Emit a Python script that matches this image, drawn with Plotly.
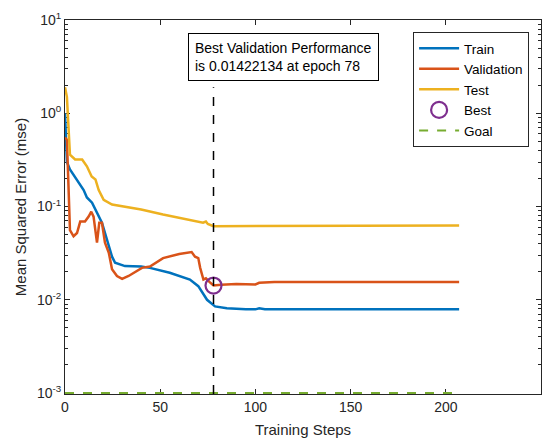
import plotly.graph_objects as go

# ---- data ----
train_x = [0, 1, 2.6, 6.3, 9.8, 11.5, 14.2, 19.4, 24.7, 26.3, 31.5, 40, 44.6, 55, 65.6, 70, 74.6, 78.8, 85, 95, 100, 102, 105, 130, 160, 190, 207]
train_y = [1.0, 0.30, 0.25, 0.19, 0.15, 0.125, 0.11, 0.067, 0.029, 0.025, 0.023, 0.0227, 0.022, 0.0195, 0.0165, 0.014, 0.010, 0.0085, 0.0081, 0.0079, 0.0079, 0.0081, 0.0079, 0.0079, 0.0079, 0.0079, 0.0079]

val_x = [0, 1, 1.9, 2.6, 4.5, 6.3, 8, 10.5, 12.4, 13.8, 15, 16.8, 18, 19.4, 21, 23, 24.7, 27.3, 30, 33.4, 40.4, 44.6, 51.5, 60, 66.5, 68.3, 70, 71, 72.7, 74, 76, 78, 82, 90, 100, 102, 110, 130, 160, 190, 207]
val_y = [0.55, 0.52, 0.15, 0.056, 0.048, 0.052, 0.069, 0.069, 0.078, 0.088, 0.078, 0.041, 0.067, 0.067, 0.041, 0.032, 0.0213, 0.018, 0.0168, 0.018, 0.022, 0.0227, 0.028, 0.031, 0.0325, 0.029, 0.028, 0.022, 0.0165, 0.017, 0.0155, 0.01422, 0.0145, 0.0148, 0.0146, 0.0152, 0.0155, 0.0155, 0.0155, 0.0155, 0.0155]

test_x = [0, 1, 2.6, 5.3, 9, 11.5, 14, 16, 17.7, 20.3, 24.7, 33.4, 40, 51.5, 65.6, 72.5, 74, 75, 78, 90, 100, 105, 130, 160, 190, 207]
test_y = [1.9, 1.5, 0.36, 0.32, 0.32, 0.27, 0.21, 0.195, 0.15, 0.118, 0.105, 0.097, 0.093, 0.082, 0.072, 0.067, 0.069, 0.065, 0.0615, 0.0615, 0.0626, 0.0626, 0.0626, 0.0626, 0.0626, 0.0626]

goal_x = [0, 207]
goal_y = [0.001, 0.001]

best_epoch = 78
best_perf = 0.01422134

x_ticks = [0, 50, 100, 150, 200, 250]
y_ticks = [1e-3, 1e-2, 1e-1, 1e0, 1e1]
y_tick_text = ["10<sup>-3</sup>", "10<sup>-2</sup>", "10<sup>-1</sup>", "10<sup>0</sup>", "10<sup>1</sup>"]
y_minor = [m * d for d in [1e-3, 1e-2, 1e-1, 1e0] for m in range(2, 10)]

BLUE = "#0072BD"
ORANGE = "#D95319"
YELLOW = "#EDB120"
PURPLE = "#7E2F8E"
GREEN = "#77AC30"
AX = "#262626"

fig = go.Figure()
fig.add_trace(go.Scatter(x=train_x, y=train_y, mode="lines", name="Train",
                         line=dict(color=BLUE, width=2.5)))
fig.add_trace(go.Scatter(x=val_x, y=val_y, mode="lines", name="Validation",
                         line=dict(color=ORANGE, width=2.5)))
fig.add_trace(go.Scatter(x=test_x, y=test_y, mode="lines", name="Test",
                         line=dict(color=YELLOW, width=2.5)))
fig.add_trace(go.Scatter(x=[best_epoch], y=[best_perf], mode="markers", name="Best",
                         marker=dict(symbol="circle-open", size=16, color=PURPLE,
                                     line=dict(color=PURPLE, width=2.2))))
fig.add_trace(go.Scatter(x=goal_x, y=goal_y, mode="lines", name="Goal",
                         line=dict(color=GREEN, width=2, dash="dash")))

fig.add_shape(type="line", xref="x", yref="paper", x0=best_epoch, x1=best_epoch,
              y0=0, y1=0.82, line=dict(color="black", width=1.5, dash="dash"))

fig.add_annotation(xref="paper", yref="paper", x=0.258, y=0.965, xanchor="left", yanchor="top",
                   text="Best Validation Performance<br>is 0.01422134 at epoch 78",
                   showarrow=False, align="left", bgcolor="white",
                   bordercolor="black", borderwidth=1, borderpad=6,
                   font=dict(family="Liberation Sans, Arial", size=14, color="black"))

fig.update_layout(
    width=549, height=438,
    margin=dict(l=65, r=8, t=20, b=44),
    paper_bgcolor="white", plot_bgcolor="white",
    font=dict(family="Liberation Sans, Arial", size=14, color=AX),
    showlegend=True,
    legend=dict(x=0.975, y=0.968, xanchor="right", yanchor="top",
                bgcolor="white", bordercolor=AX, borderwidth=1,
                font=dict(size=13.5, color="black"), itemwidth=40,
                tracegroupgap=0),
)
fig.update_xaxes(range=[0, 250], tickvals=x_ticks, ticks="inside", ticklen=5,
                 showline=True, linecolor=AX, linewidth=1, mirror="ticks",
                 showgrid=False, zeroline=False, tickcolor=AX, automargin=False,
                 layer="below traces",
                 title=dict(text="Training Steps", font=dict(size=15), standoff=12))
fig.update_yaxes(type="log", range=[-3.01, 1], tickvals=y_ticks, ticktext=y_tick_text,
                 ticks="inside", ticklen=5, tickcolor=AX, automargin=False,
                 layer="below traces",
                 minor=dict(tickvals=y_minor, ticks="inside", ticklen=3, tickcolor=AX, showgrid=False),
                 showline=True, linecolor=AX, linewidth=1, mirror="ticks",
                 showgrid=False, zeroline=False,
                 title=dict(text="Mean Squared Error (mse)", font=dict(size=15), standoff=6))

fig.write_html("out.html")
